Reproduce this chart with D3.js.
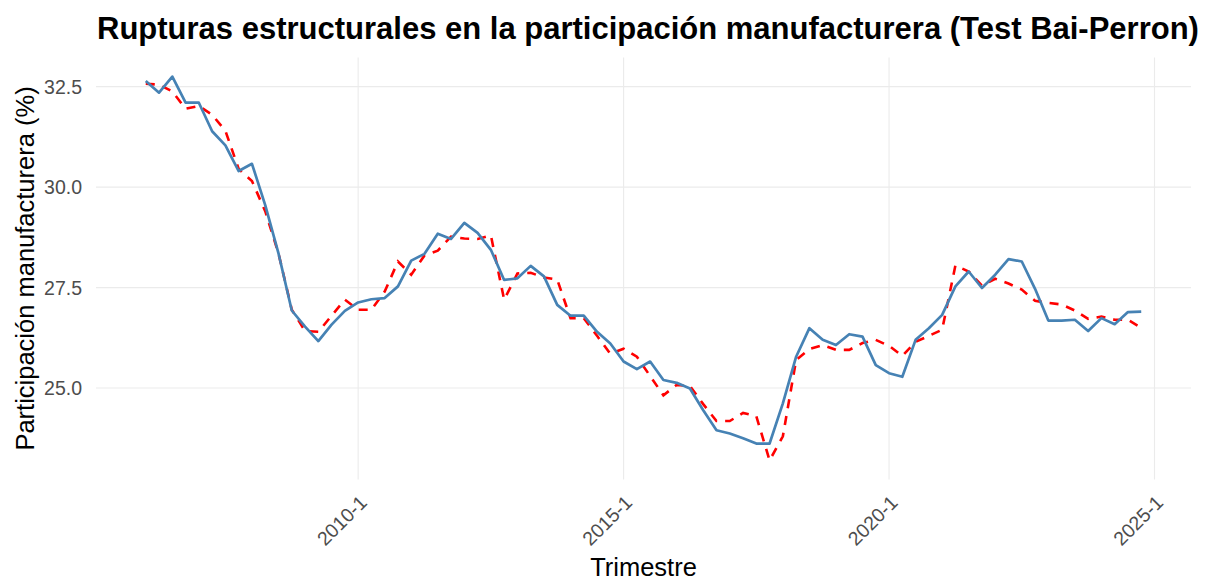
<!DOCTYPE html>
<html>
<head>
<meta charset="utf-8">
<script src="https://cdn.jsdelivr.net/npm/d3@7"></script>
<style>
    body { margin: 0; background: #fff; }
    text { font-family: "Liberation Sans", Arial, sans-serif; }
</style>
</head>
<body>
<div id="chart"></div>
<script>
// quarters from 2006-1 to 2024-4
var startYear = 2006;

// observed manufacturing share (%)
var observed = [
    32.64, 32.35, 32.75, 32.10, 32.10, 31.39, 31.04, 30.40,
    30.58, 29.55, 28.35, 26.93, 26.53, 26.17, 26.58, 26.92,
    27.13, 27.21, 27.24, 27.53, 28.17, 28.34, 28.84, 28.71,
    29.11, 28.86, 28.44, 27.69, 27.73, 28.04, 27.78, 27.07,
    26.80, 26.80, 26.40, 26.11, 25.66, 25.47, 25.66, 25.20,
    25.13, 24.99, 24.45, 23.95, 23.87, 23.75, 23.62, 23.62,
    24.62, 25.78, 26.49, 26.20, 26.07, 26.34, 26.28, 25.57,
    25.37, 25.28, 26.20, 26.49, 26.82, 27.53, 27.90, 27.49,
    27.82, 28.21, 28.15, 27.47, 26.68, 26.68, 26.70, 26.42,
    26.74, 26.59, 26.89, 26.90
];

// fitted values, Bai-Perron segments
var fitted = [
    32.57, 32.55, 32.38, 31.95, 32.02, 31.80, 31.40, 30.45,
    30.15, 29.40, 28.35, 26.95, 26.42, 26.40, 26.80, 27.20,
    26.95, 26.95, 27.40, 28.15, 27.82, 28.30, 28.42, 28.77,
    28.72, 28.71, 28.80, 27.20, 27.85, 27.87, 27.75, 27.70,
    26.74, 26.74, 26.30, 25.85, 25.98, 25.78, 25.30, 24.82,
    25.08, 25.05, 24.60, 24.18, 24.18, 24.38, 24.30, 23.20,
    23.80, 25.70, 25.97, 26.07, 25.95, 25.95, 26.12, 26.20,
    26.05, 25.80, 26.15, 26.30, 26.45, 28.05, 27.90, 27.55,
    27.72, 27.60, 27.45, 27.17, 27.12, 27.08, 26.93, 26.72,
    26.78, 26.70, 26.70, 26.50
];

var xTickLabels = ["2010-1", "2015-1", "2020-1", "2025-1"];
var yTicks = [25.0, 27.5, 30.0, 32.5];

var width = 1207,
    height = 581;
var panel = { left: 96, right: 1191 };

var svg = d3.select("#chart")
    .append("svg")
    .attr("width", width)
    .attr("height", height)
    .style("background", "#fff");

// numeric time for each quarter
var times = observed.map(function (d, i) {
    return startYear + i / 4;
});
var tickTimes = xTickLabels.map(function (s) {
    var p = s.split("-");
    return +p[0] + (+p[1] - 1) / 4;
});

function expand(ext) {
    var pad = (ext[1] - ext[0]) * 0.05;
    return [ext[0] - pad, ext[1] + pad];
}

var x = d3.scaleLinear()
    .domain(expand(d3.extent(times)))
    .range([panel.left, panel.right]);

var y = d3.scaleLinear()
    .domain(expand(d3.extent(observed.concat(fitted))))
    .range([479.6, 57.4]);

// grid
svg.append("g")
    .attr("class", "grid-y")
    .selectAll("line")
    .data(yTicks)
    .enter().append("line")
    .attr("x1", panel.left)
    .attr("x2", panel.right)
    .attr("y1", function (d) { return y(d); })
    .attr("y2", function (d) { return y(d); })
    .style("stroke", "#ebebeb")
    .style("stroke-width", 1.1);

svg.append("g")
    .attr("class", "grid-x")
    .selectAll("line")
    .data(tickTimes)
    .enter().append("line")
    .attr("x1", function (d) { return x(d); })
    .attr("x2", function (d) { return x(d); })
    .attr("y1", y.range()[1])
    .attr("y2", y.range()[0])
    .style("stroke", "#ebebeb")
    .style("stroke-width", 1.1);

var line = d3.line()
    .x(function (d, i) { return x(times[i]); })
    .y(function (d) { return y(d); });

svg.append("path")
    .datum(fitted)
    .attr("d", line)
    .style("fill", "none")
    .style("stroke", "#ff0000")
    .style("stroke-width", 2.6)
    .style("stroke-dasharray", "9,8");

svg.append("path")
    .datum(observed)
    .attr("d", line)
    .style("fill", "none")
    .style("stroke", "#4682b4")
    .style("stroke-width", 2.7)
    .style("stroke-linejoin", "round");

// y axis labels
svg.append("g")
    .selectAll("text")
    .data(yTicks)
    .enter().append("text")
    .attr("x", 82)
    .attr("y", function (d) { return y(d); })
    .attr("dy", "0.36em")
    .attr("text-anchor", "end")
    .style("font-size", "19.5px")
    .style("fill", "#4d4d4d")
    .text(function (d) { return d3.format(".1f")(d); });

// x axis labels, rotated 45
svg.append("g")
    .selectAll("text")
    .data(xTickLabels)
    .enter().append("text")
    .attr("transform", function (d, i) {
        return "translate(" + x(tickTimes[i]) + ",494) rotate(-45)";
    })
    .attr("dy", "0.72em")
    .attr("text-anchor", "end")
    .style("font-size", "19.5px")
    .style("fill", "#4d4d4d")
    .text(function (d) { return d; });

svg.append("text")
    .attr("x", (panel.left + panel.right) / 2)
    .attr("y", 576)
    .attr("text-anchor", "middle")
    .style("font-size", "25.5px")
    .style("fill", "#000")
    .text("Trimestre");

svg.append("text")
    .attr("transform", "translate(33.6," + ((y.range()[0] + y.range()[1]) / 2) + ") rotate(-90)")
    .attr("text-anchor", "middle")
    .style("font-size", "25.5px")
    .style("fill", "#000")
    .text("Participación manufacturera (%)");

svg.append("text")
    .attr("x", 97)
    .attr("y", 39)
    .style("font-size", "31px")
    .style("font-weight", "bold")
    .style("fill", "#000")
    .text("Rupturas estructurales en la participación manufacturera (Test Bai-Perron)");
</script>
</body>
</html>
